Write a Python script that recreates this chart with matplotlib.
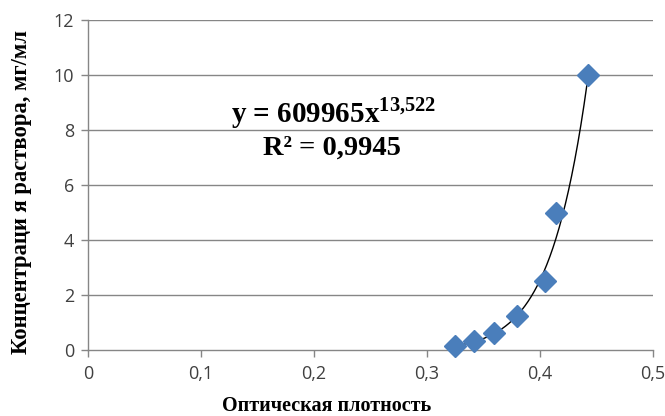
import numpy as np
import matplotlib
matplotlib.use("Agg")
import matplotlib.pyplot as plt

# Data
optical_density = [0.325, 0.342, 0.359, 0.380, 0.404, 0.4145, 0.4425]
concentration = [0.156, 0.3125, 0.625, 1.25, 2.5, 5, 10]

# Power trendline shown on chart: y = a * x^b
trend_a = 609965
trend_b = 13.522

x_ticks = [0, 0.1, 0.2, 0.3, 0.4, 0.5]
x_tick_labels = ["0", "0,1", "0,2", "0,3", "0,4", "0,5"]
y_ticks = [0, 2, 4, 6, 8, 10, 12]

plt.rcParams['mathtext.fontset'] = 'custom'
plt.rcParams['mathtext.rm'] = 'Liberation Serif:bold'
plt.rcParams['mathtext.bf'] = 'Liberation Serif:bold'

fig = plt.figure(figsize=(6.65, 4.16), dpi=100)
ax = fig.add_axes([88/665, 1-350/416, (653-88)/665, (350-20)/416])

ax.set_xlim(0, 0.5)
ax.set_ylim(0, 12)

grid_c = "#868686"
ax.set_yticks(y_ticks)
ax.set_xticks(x_ticks)
ax.set_xticklabels(x_tick_labels)
for y in y_ticks[1:]:
    ax.axhline(y, color=grid_c, lw=1.0, zorder=0)

for s in ["top", "right"]:
    ax.spines[s].set_visible(False)
for s in ["left", "bottom"]:
    ax.spines[s].set_color(grid_c)
    ax.spines[s].set_linewidth(1.0)

ax.tick_params(axis="both", colors=grid_c, length=5, width=1.0, direction="out",
               labelcolor="#404040", labelsize=13)
for lab in ax.get_xticklabels() + ax.get_yticklabels():
    lab.set_fontfamily("Open Sans")
ax.tick_params(axis="x", pad=6)
ax.tick_params(axis="y", pad=5)

xs = np.linspace(min(optical_density), max(optical_density), 300)
ax.plot(xs, trend_a * xs ** trend_b, color="black", lw=1.0, zorder=2)

ax.plot(optical_density, concentration, linestyle="none", marker="D", ms=11,
        color="#4A7EBB", markeredgecolor="#4A7EBB", zorder=3, clip_on=False)

ax.text(0.2175, 8.6, r"y = 609965x$^{\mathbf{13{,}522}}$", fontsize=21,
        fontfamily="Liberation Serif", fontweight="bold", ha="center", va="center")
ax.text(0.2155, 7.35, "R² = 0,9945", fontsize=20.5,
        fontfamily="Liberation Serif", fontweight="bold", ha="center", va="center")

ax.set_xlabel("Оптическая плотность", fontsize=14.5, fontfamily="Liberation Serif",
              fontweight="bold")
ax.xaxis.set_label_coords((327-88)/565, -(406-350)/330)
ax.xaxis.label.set_va("center")
ax.set_ylabel("Концентраци я раствора, мг/мл", fontsize=16.3, fontfamily="Liberation Serif",
              fontweight="bold")
ax.yaxis.set_label_coords(-(88-22)/565, (350-192)/330)
ax.yaxis.label.set_va("center")

fig.savefig("out.png", dpi=100)
